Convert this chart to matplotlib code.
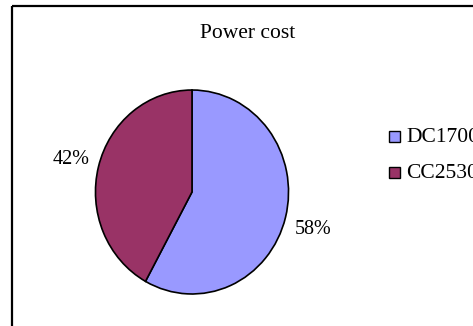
import matplotlib
matplotlib.use("Agg")
import matplotlib.pyplot as plt
from matplotlib.patches import Rectangle

categories = ["DC1700", "CC2530"]
values = [58, 42]
colors = ["#9999FF", "#993366"]
title = "Power cost"

W, H = 473, 326
fig = plt.figure(figsize=(W / 100, H / 100), dpi=100)
plt.rcParams['font.family'] = ['Liberation Serif', 'DejaVu Serif']

# overlay axes in pixel coordinates (y measured from top)
ax = fig.add_axes([0, 0, 1, 1])
ax.set_xlim(0, W)
ax.set_ylim(H, 0)
ax.axis('off')

# chart frame (right and bottom edges fall outside the image)
ax.add_patch(Rectangle((11.5, 5.5), W + 40, H + 40, fill=False,
                       edgecolor='black', linewidth=1.6, clip_on=False))

# pie in its own axes
cx, cy, rx, ry = 192, 192, 97.5, 103
pax = fig.add_axes([(cx - rx) / W, (H - cy - ry) / H, 2 * rx / W, 2 * ry / H])
wedges, texts = pax.pie(values, colors=colors, startangle=90, counterclock=False,
                        radius=1, wedgeprops=dict(edgecolor='black', linewidth=1.2))
pax.set_aspect('auto')
pax.set_xlim(-1.01, 1.01)
pax.set_ylim(-1.01, 1.01)
pax.axis('off')

# percentage labels (Excel best-fit placement)
label_pos = [(313, 229), (71, 160)]
for v, (x, y) in zip(values, label_pos):
    ax.text(x, y, f"{v}%", ha='center', va='center', fontsize=14.5)

ax.text(247.5, 33, title, ha='center', va='center', fontsize=15.5)

# legend
for i, (cat, col) in enumerate(zip(categories, colors)):
    y = 137 + 36 * i
    ax.add_patch(Rectangle((388.5, y - 6), 11, 11, facecolor=col, edgecolor='black',
                           linewidth=1.0))
    ax.text(406, y, cat, ha='left', va='center', fontsize=15.5)

fig.savefig("out.png", dpi=100)
